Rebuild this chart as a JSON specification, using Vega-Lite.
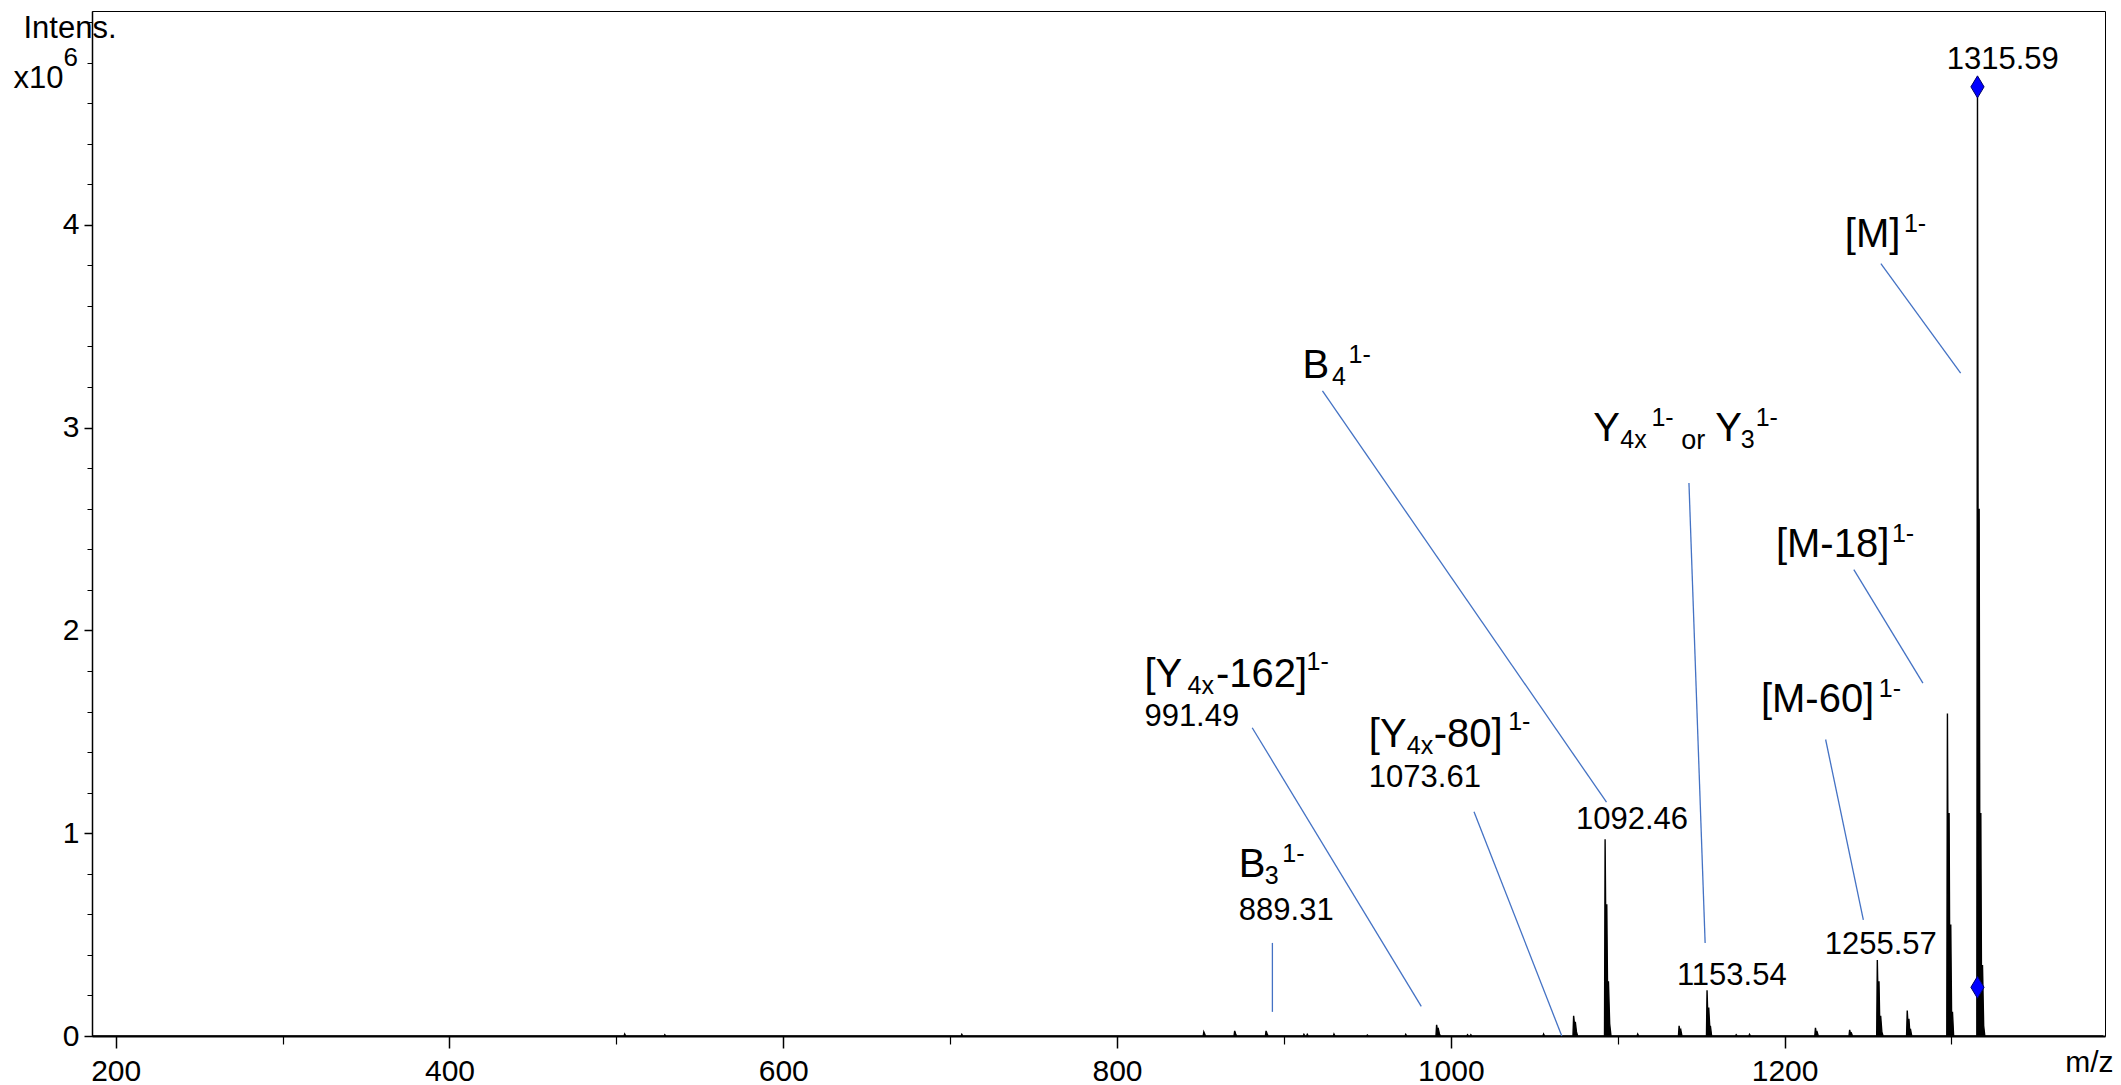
{
  "$schema": "https://vega.github.io/schema/vega-lite/v6.json",
  "autosize": {"type": "none"},
  "width": 2013,
  "height": 1025,
  "padding": {"left": 92, "top": 11, "right": 16, "bottom": 49},
  "background": "white",
  "config": {
    "view": {"stroke": "black", "strokeWidth": 1},
    "axis": {"grid": false, "labelFont": "Liberation Sans", "titleFont": "Liberation Sans", "labelColor": "black", "titleColor": "black", "tickColor": "black", "domainColor": "black", "titleFontWeight": "normal"},
    "text": {"font": "Liberation Sans"}
  },
  "datasets": {
    "spectrum": [
      {"mz": 186, "i": 0},
      {"mz": 504.6, "i": 0}, {"mz": 505, "i": 0.01}, {"mz": 505.6, "i": 0},
      {"mz": 528.6, "i": 0}, {"mz": 529, "i": 0.006}, {"mz": 529.6, "i": 0},
      {"mz": 706.6, "i": 0}, {"mz": 707, "i": 0.008}, {"mz": 707.6, "i": 0},
      {"mz": 851.6, "i": 0}, {"mz": 852, "i": 0.02}, {"mz": 852.6, "i": 0.008}, {"mz": 853.2, "i": 0},
      {"mz": 870.1, "i": 0}, {"mz": 870.5, "i": 0.025}, {"mz": 871.1, "i": 0.01}, {"mz": 871.7, "i": 0},
      {"mz": 888.9, "i": 0}, {"mz": 889.3, "i": 0.025}, {"mz": 889.9, "i": 0.012}, {"mz": 890.5, "i": 0},
      {"mz": 911.6, "i": 0}, {"mz": 912, "i": 0.008}, {"mz": 912.6, "i": 0},
      {"mz": 913.6, "i": 0}, {"mz": 914, "i": 0.008}, {"mz": 914.6, "i": 0},
      {"mz": 929.6, "i": 0}, {"mz": 930, "i": 0.01}, {"mz": 930.6, "i": 0},
      {"mz": 949.6, "i": 0}, {"mz": 950, "i": 0.005}, {"mz": 950.6, "i": 0},
      {"mz": 972.6, "i": 0}, {"mz": 973, "i": 0.008}, {"mz": 973.6, "i": 0},
      {"mz": 991.1, "i": 0}, {"mz": 991.5, "i": 0.055}, {"mz": 992.0, "i": 0.03}, {"mz": 992.5, "i": 0.035}, {"mz": 993.2, "i": 0.01}, {"mz": 993.8, "i": 0},
      {"mz": 1009.6, "i": 0}, {"mz": 1010, "i": 0.006}, {"mz": 1010.6, "i": 0},
      {"mz": 1011.6, "i": 0}, {"mz": 1012, "i": 0.006}, {"mz": 1012.6, "i": 0},
      {"mz": 1055.2, "i": 0}, {"mz": 1055.6, "i": 0.01}, {"mz": 1056.2, "i": 0},
      {"mz": 1073.2, "i": 0}, {"mz": 1073.6, "i": 0.10}, {"mz": 1074.1, "i": 0.06}, {"mz": 1074.6, "i": 0.07}, {"mz": 1075.3, "i": 0.02}, {"mz": 1076, "i": 0},
      {"mz": 1092.1, "i": 0}, {"mz": 1092.46, "i": 0.97}, {"mz": 1092.9, "i": 0.5}, {"mz": 1093.46, "i": 0.65}, {"mz": 1093.9, "i": 0.25}, {"mz": 1094.46, "i": 0.27}, {"mz": 1095.2, "i": 0.06}, {"mz": 1096, "i": 0},
      {"mz": 1111.6, "i": 0}, {"mz": 1112, "i": 0.01}, {"mz": 1112.6, "i": 0},
      {"mz": 1136.4, "i": 0}, {"mz": 1136.8, "i": 0.05}, {"mz": 1137.3, "i": 0.02}, {"mz": 1137.8, "i": 0.03}, {"mz": 1138.5, "i": 0},
      {"mz": 1153.2, "i": 0}, {"mz": 1153.54, "i": 0.226}, {"mz": 1154.0, "i": 0.1}, {"mz": 1154.54, "i": 0.14}, {"mz": 1155.2, "i": 0.04}, {"mz": 1155.54, "i": 0.05}, {"mz": 1156.3, "i": 0},
      {"mz": 1170.6, "i": 0}, {"mz": 1171, "i": 0.006}, {"mz": 1171.6, "i": 0},
      {"mz": 1178.6, "i": 0}, {"mz": 1179, "i": 0.008}, {"mz": 1179.6, "i": 0},
      {"mz": 1218.1, "i": 0}, {"mz": 1218.5, "i": 0.04}, {"mz": 1219.0, "i": 0.015}, {"mz": 1219.5, "i": 0.02}, {"mz": 1220.2, "i": 0},
      {"mz": 1238.6, "i": 0}, {"mz": 1239, "i": 0.03}, {"mz": 1239.5, "i": 0.012}, {"mz": 1240, "i": 0.015}, {"mz": 1240.7, "i": 0},
      {"mz": 1255.2, "i": 0}, {"mz": 1255.57, "i": 0.375}, {"mz": 1256.0, "i": 0.18}, {"mz": 1256.57, "i": 0.27}, {"mz": 1257.0, "i": 0.08}, {"mz": 1257.57, "i": 0.1}, {"mz": 1258.3, "i": 0.02}, {"mz": 1259, "i": 0},
      {"mz": 1273.1, "i": 0}, {"mz": 1273.5, "i": 0.126}, {"mz": 1274.0, "i": 0.05}, {"mz": 1274.5, "i": 0.085}, {"mz": 1275.0, "i": 0.025}, {"mz": 1275.5, "i": 0.03}, {"mz": 1276.2, "i": 0},
      {"mz": 1297.2, "i": 0}, {"mz": 1297.58, "i": 1.59}, {"mz": 1298.0, "i": 0.7}, {"mz": 1298.58, "i": 1.10}, {"mz": 1299.0, "i": 0.3}, {"mz": 1299.58, "i": 0.55}, {"mz": 1300.1, "i": 0.08}, {"mz": 1300.6, "i": 0.12}, {"mz": 1301.3, "i": 0},
      {"mz": 1315.2, "i": 0}, {"mz": 1315.59, "i": 4.68}, {"mz": 1316.0, "i": 2.2}, {"mz": 1316.59, "i": 2.6}, {"mz": 1317.0, "i": 0.8}, {"mz": 1317.59, "i": 1.1}, {"mz": 1318.0, "i": 0.25}, {"mz": 1318.59, "i": 0.35}, {"mz": 1319.3, "i": 0.05}, {"mz": 1320, "i": 0},
      {"mz": 1391, "i": 0}
    ],
    "markers": [
      {"mz": 1315.59, "i": 4.68},
      {"mz": 1315.59, "i": 0.24}
    ],
    "leaders": [
      {"x": 1257.7, "y": 3.808, "x2": 1305.5, "y2": 3.268},
      {"x": 923.1, "y": 3.181, "x2": 1093.3, "y2": 1.153},
      {"x": 1142.7, "y": 2.727, "x2": 1152.4, "y2": 0.459},
      {"x": 1241.5, "y": 2.300, "x2": 1282.9, "y2": 1.740},
      {"x": 1224.6, "y": 1.462, "x2": 1247.2, "y2": 0.573},
      {"x": 881.0, "y": 1.520, "x2": 982.3, "y2": 0.146},
      {"x": 1013.9, "y": 1.106, "x2": 1066.5, "y2": 0.0},
      {"x": 893.1, "y": 0.459, "x2": 893.1, "y2": 0.119}
    ],
    "labels": [
      {"t": "[M]", "x": 1236.1, "y": 3.890, "r": "big"},
      {"t": "1-", "x": 1271.5, "y": 3.964, "r": "small"},
      {"t": "[M-18]", "x": 1194.8, "y": 2.362, "r": "big"},
      {"t": "1-", "x": 1264.3, "y": 2.436, "r": "small"},
      {"t": "[M-60]", "x": 1185.8, "y": 1.597, "r": "big"},
      {"t": "1-", "x": 1256.5, "y": 1.671, "r": "small"},
      {"t": "B", "x": 911.1, "y": 3.244, "r": "big"},
      {"t": "4", "x": 928.8, "y": 3.210, "r": "small"},
      {"t": "1-", "x": 938.7, "y": 3.318, "r": "small"},
      {"t": "Y", "x": 1085.4, "y": 2.934, "r": "big"},
      {"t": "4x", "x": 1101.6, "y": 2.899, "r": "small"},
      {"t": "1-", "x": 1120.2, "y": 3.008, "r": "small"},
      {"t": "or", "x": 1138.1, "y": 2.894, "r": "mid"},
      {"t": "Y", "x": 1158.4, "y": 2.934, "r": "big"},
      {"t": "3", "x": 1173.8, "y": 2.899, "r": "small"},
      {"t": "1-", "x": 1182.7, "y": 3.008, "r": "small"},
      {"t": "[Y", "x": 816.4, "y": 1.721, "r": "big"},
      {"t": "4x", "x": 842.3, "y": 1.686, "r": "small"},
      {"t": "-162]", "x": 859.3, "y": 1.721, "r": "big"},
      {"t": "1-", "x": 913.6, "y": 1.805, "r": "small"},
      {"t": "991.49", "x": 816.4, "y": 1.528, "r": "num"},
      {"t": "[Y", "x": 950.9, "y": 1.425, "r": "big"},
      {"t": "4x", "x": 973.6, "y": 1.390, "r": "small"},
      {"t": "-80]", "x": 989.8, "y": 1.425, "r": "big"},
      {"t": "1-", "x": 1034.4, "y": 1.509, "r": "small"},
      {"t": "1073.61", "x": 950.9, "y": 1.228, "r": "num"},
      {"t": "B", "x": 873.0, "y": 0.784, "r": "big"},
      {"t": "3", "x": 888.5, "y": 0.749, "r": "small"},
      {"t": "1-", "x": 899.0, "y": 0.858, "r": "small"},
      {"t": "889.31", "x": 873.0, "y": 0.572, "r": "num"},
      {"t": "1315.59", "x": 1297.2, "y": 4.768, "r": "num"},
      {"t": "1092.46", "x": 1075.0, "y": 1.021, "r": "num"},
      {"t": "1153.54", "x": 1135.5, "y": 0.251, "r": "num"},
      {"t": "1255.57", "x": 1224.1, "y": 0.406, "r": "num"}
    ]
  },
  "resolve": {"axis": {"x": "independent", "y": "independent"}},
  "layer": [
    {
      "data": {"name": "spectrum"},
      "mark": {"type": "area", "color": "black", "stroke": "black", "strokeWidth": 1.4, "interpolate": "linear"},
      "encoding": {
        "x": {"field": "mz", "type": "quantitative", "scale": {"domain": [185.8, 1392], "nice": false, "zero": false},
          "axis": {"orient": "bottom", "values": [200, 400, 600, 800, 1000, 1200], "format": "d", "tickSize": 12, "tickWidth": 1.5, "domainWidth": 2, "labelFontSize": 30, "labelPadding": 8, "labelFlush": false, "labelOverlap": false,
            "title": "m/z", "titleFontSize": 30, "titleAlign": "right", "titleBaseline": "alphabetic", "titleAnchor": null, "titleX": 2021, "titleY": 35}},
        "y": {"field": "i", "type": "quantitative", "scale": {"domain": [0, 5.054], "nice": false, "zero": true},
          "axis": {"orient": "left", "values": [0, 1, 2, 3, 4], "format": "d", "tickSize": 8, "tickWidth": 1.5, "domainWidth": 1.5, "labelFontSize": 30, "labelPadding": 5, "labelFlush": false, "labelOverlap": false,
            "title": "Intens.", "titleFontSize": 31, "titleAngle": 0, "titleAlign": "left", "titleBaseline": "alphabetic", "titleX": -69, "titleY": 26}}
      }
    },
    {
      "data": {"name": "markers"},
      "mark": {"type": "point", "shape": "M0,-1L0.6,0L0,1L-0.6,0Z", "size": 484, "filled": true, "fill": "#0000ff", "stroke": "#000066", "strokeWidth": 1, "opacity": 1},
      "encoding": {
        "x": {"field": "mz", "type": "quantitative", "scale": {"domain": [185.8, 1392], "nice": false, "zero": false},
          "axis": {"orient": "bottom", "values": [300, 500, 700, 900, 1100, 1300], "labels": false, "domain": false, "tickSize": 8, "tickWidth": 1.2, "title": null}},
        "y": {"field": "i", "type": "quantitative", "scale": {"domain": [0, 5.054], "nice": false, "zero": true},
          "axis": {"orient": "left", "values": [0.2, 0.4, 0.6, 0.8, 1.2, 1.4, 1.6, 1.8, 2.2, 2.4, 2.6, 2.8, 3.2, 3.4, 3.6, 3.8, 4.2, 4.4, 4.6, 4.8, 5.0], "labels": false, "domain": false, "tickSize": 5, "tickWidth": 1,
            "title": "x10", "titleFontSize": 31, "titleAngle": 0, "titleAlign": "left", "titleBaseline": "alphabetic", "titleX": -79, "titleY": 76}}
      }
    },
    {
      "data": {"name": "leaders"},
      "mark": {"type": "rule", "color": "#4472C4", "strokeWidth": 1.3},
      "encoding": {
        "x": {"field": "x", "type": "quantitative", "scale": {"domain": [185.8, 1392], "nice": false, "zero": false}, "axis": null},
        "y": {"field": "y", "type": "quantitative", "scale": {"domain": [0, 5.054], "nice": false, "zero": true},
          "axis": {"orient": "left", "ticks": false, "labels": false, "domain": false,
            "title": "6", "titleFontSize": 26, "titleAngle": 0, "titleAlign": "left", "titleBaseline": "alphabetic", "titleX": -29, "titleY": 54}},
        "x2": {"field": "x2"},
        "y2": {"field": "y2"}
      }
    },
    {
      "data": {"name": "labels"},
      "transform": [{"filter": "datum.r === 'big'"}],
      "mark": {"type": "text", "align": "left", "baseline": "alphabetic", "color": "black", "font": "Liberation Sans", "fontSize": 40},
      "encoding": {
        "x": {"field": "x", "type": "quantitative", "scale": {"domain": [185.8, 1392], "nice": false, "zero": false}, "axis": null},
        "y": {"field": "y", "type": "quantitative", "scale": {"domain": [0, 5.054], "nice": false, "zero": true}, "axis": null},
        "text": {"field": "t", "type": "nominal"}
      }
    },
    {
      "data": {"name": "labels"},
      "transform": [{"filter": "datum.r === 'num'"}],
      "mark": {"type": "text", "align": "left", "baseline": "alphabetic", "color": "black", "font": "Liberation Sans", "fontSize": 31},
      "encoding": {
        "x": {"field": "x", "type": "quantitative", "scale": {"domain": [185.8, 1392], "nice": false, "zero": false}, "axis": null},
        "y": {"field": "y", "type": "quantitative", "scale": {"domain": [0, 5.054], "nice": false, "zero": true}, "axis": null},
        "text": {"field": "t", "type": "nominal"}
      }
    },
    {
      "data": {"name": "labels"},
      "transform": [{"filter": "datum.r === 'mid'"}],
      "mark": {"type": "text", "align": "left", "baseline": "alphabetic", "color": "black", "font": "Liberation Sans", "fontSize": 27},
      "encoding": {
        "x": {"field": "x", "type": "quantitative", "scale": {"domain": [185.8, 1392], "nice": false, "zero": false}, "axis": null},
        "y": {"field": "y", "type": "quantitative", "scale": {"domain": [0, 5.054], "nice": false, "zero": true}, "axis": null},
        "text": {"field": "t", "type": "nominal"}
      }
    },
    {
      "data": {"name": "labels"},
      "transform": [{"filter": "datum.r === 'small'"}],
      "mark": {"type": "text", "align": "left", "baseline": "alphabetic", "color": "black", "font": "Liberation Sans", "fontSize": 25},
      "encoding": {
        "x": {"field": "x", "type": "quantitative", "scale": {"domain": [185.8, 1392], "nice": false, "zero": false}, "axis": null},
        "y": {"field": "y", "type": "quantitative", "scale": {"domain": [0, 5.054], "nice": false, "zero": true}, "axis": null},
        "text": {"field": "t", "type": "nominal"}
      }
    }
  ]
}
